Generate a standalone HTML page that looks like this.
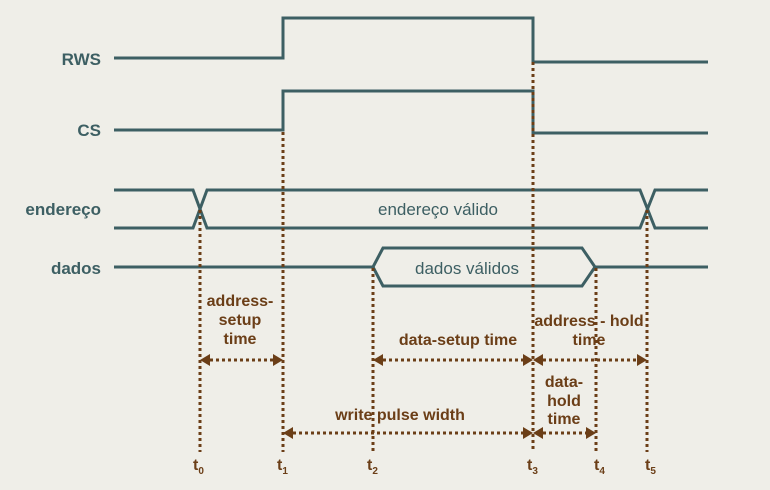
<!DOCTYPE html>
<html><head><style>
html,body{margin:0;padding:0;background:#efeee8;}
svg{display:block}
.l{font-family:"Liberation Sans",sans-serif;font-weight:bold;font-size:17px;fill:#3d5f63}
.b{font-family:"Liberation Sans",sans-serif;font-weight:bold;font-size:16px;fill:#6b3e17}
.n{font-family:"Liberation Sans",sans-serif;font-size:17px;fill:#3d5f63}
</style></head><body>
<svg width="770" height="490" viewBox="0 0 770 490">
<rect width="770" height="490" fill="#efeee8"/>
<g fill="none" stroke="#3d5f63" stroke-width="3">
<polyline points="114,58 283,58 283,18 533,18 533,62 708,62"/>
<polyline points="114,130 283,130 283,91 533,91 533,133 708,133"/>
<polyline points="114,190 193,190 207,228 640,228 655,190 708,190"/>
<polyline points="114,228 193,228 207,190 640,190 655,228 708,228"/>
<polyline points="114,267 373,267 383,248 582,248 595,267 708,267"/>
<polyline points="373,267 383,286 582,286 595,267"/>
</g>
<g stroke="#6b3e17" stroke-width="3" stroke-dasharray="3,3" fill="none">
<line x1="200" y1="210" x2="200" y2="452"/>
<line x1="283" y1="132" x2="283" y2="452"/>
<line x1="373" y1="268" x2="373" y2="452"/>
<line x1="533" y1="62" x2="533" y2="452"/>
<line x1="596" y1="268" x2="596" y2="452"/>
<line x1="647" y1="210" x2="647" y2="452"/>
<line x1="210" y1="360" x2="273" y2="360"/>
<line x1="383" y1="360" x2="523" y2="360"/>
<line x1="543" y1="360" x2="637" y2="360"/>
<line x1="293" y1="433" x2="523" y2="433"/>
<line x1="543" y1="433" x2="586" y2="433"/>
</g>
<g fill="#6b3e17">
<polygon points="200,360 210,354 210,366"/><polygon points="283,360 273,354 273,366"/>
<polygon points="373,360 383,354 383,366"/><polygon points="533,360 523,354 523,366"/>
<polygon points="533,360 543,354 543,366"/><polygon points="647,360 637,354 637,366"/>
<polygon points="283,433 293,427 293,439"/><polygon points="533,433 523,427 523,439"/>
<polygon points="533,433 543,427 543,439"/><polygon points="596,433 586,427 586,439"/>
</g>
<g class="l" text-anchor="end">
<text x="101" y="65">RWS</text><text x="101" y="136">CS</text>
<text x="101" y="215">endereço</text><text x="101" y="274">dados</text>
</g>
<text class="n" x="438" y="215" text-anchor="middle">endereço válido</text>
<text class="n" x="467" y="274" text-anchor="middle">dados válidos</text>
<g class="b" text-anchor="middle">
<text x="240" y="306">address-</text><text x="240" y="325">setup</text><text x="240" y="344">time</text>
<text x="458" y="345">data-setup time</text>
<text x="589" y="326">address - hold</text><text x="589" y="345">time</text>
<text x="564" y="387">data-</text><text x="564" y="406">hold</text><text x="564" y="424">time</text>
<text x="400" y="420">write pulse width</text>
</g>
<g class="b" font-size="17">
<text x="193" y="470">t<tspan font-size="10" dy="4">0</tspan></text>
<text x="277" y="470">t<tspan font-size="10" dy="4">1</tspan></text>
<text x="367" y="470">t<tspan font-size="10" dy="4">2</tspan></text>
<text x="527" y="470">t<tspan font-size="10" dy="4">3</tspan></text>
<text x="594" y="470">t<tspan font-size="10" dy="4">4</tspan></text>
<text x="645" y="470">t<tspan font-size="10" dy="4">5</tspan></text>
</g>
</svg>
</body></html>
